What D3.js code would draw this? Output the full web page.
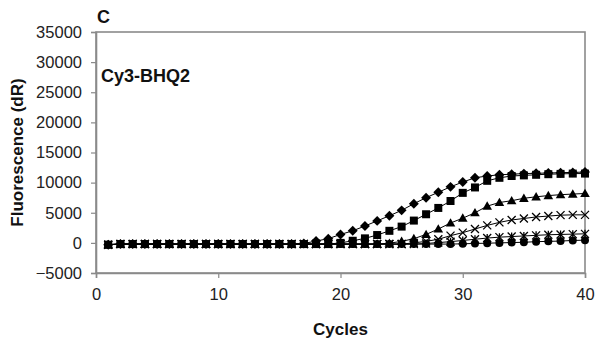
<!DOCTYPE html>
<html>
<head>
<meta charset="utf-8">
<script src="https://cdn.jsdelivr.net/npm/d3@7"></script>
<style>
  html, body { margin: 0; padding: 0; background: #fff; }
  svg { display: block; font-family: "Liberation Sans", Arial, sans-serif; }
</style>
</head>
<body>
<svg id="chart" width="596" height="341"></svg>
<script>
// Amplification curves, Cy3-BHQ2 probe: fluorescence (dR) per PCR cycle
const cycles = d3.range(1, 41);

const diamondSeries = [-300,-200,-200,-200,-200,-200,-200,-200,-200,-200,-200,-200,-200,-200,-200,-200,
  -100,300,700,1400,2000,2800,3650,4500,5400,6500,7500,8400,9300,10100,10800,11100,11300,11400,11500,11550,11600,11650,11700,11750];
const squareSeries = [-300,-200,-200,-200,-200,-200,-200,-200,-200,-200,-200,-200,-200,-200,-200,-200,-200,-200,-200,
  0,350,750,1300,2000,2700,3700,4750,5800,6950,8300,9200,10300,10800,11100,11200,11300,11400,11450,11500,11500];
const triangleSeries = [-300,-200,-200,-200,-200,-200,-200,-200,-200,-200,-200,-200,-200,-200,-200,-200,-200,-200,-200,-200,-200,-200,-200,
  -50,250,700,1400,2300,3300,4100,5000,6100,6700,7000,7400,7650,7850,8000,8100,8200];
const crossSeries = [-300,-200,-200,-200,-200,-200,-200,-200,-200,-200,-200,-200,-200,-200,-200,-200,-200,-200,-200,-200,-200,-200,-200,-200,-200,
  0,250,600,1200,1700,2300,2900,3400,3800,4050,4300,4450,4600,4650,4650];
const starSeries = [-300,-200,-200,-200,-200,-200,-200,-200,-200,-200,-200,-200,-200,-200,-200,-200,-200,-200,-200,-200,-200,-200,-200,-200,-200,-200,
  -100,50,200,400,600,800,950,1050,1150,1250,1350,1400,1450,1500];
const circleSeries = [-300,-200,-200,-200,-200,-200,-200,-200,-200,-200,-200,-200,-200,-200,-200,-200,-200,-200,-200,-200,-200,-200,-200,-200,-200,-200,-200,-200,-200,
  -150,-100,-50,0,50,100,200,250,300,400,450];

const xTicks = [0, 10, 20, 30, 40];
const yTicks = [-5000, 0, 5000, 10000, 15000, 20000, 25000, 30000, 35000];

const panelLetter = "C";
const probeName = "Cy3-BHQ2";
const xTitle = "Cycles";
const yTitle = "Fluorescence (dR)";

// drawing order: last one ends up on top
const seriesList = [
  { values: circleSeries, marker: "circle" },
  { values: starSeries, marker: "star" },
  { values: crossSeries, marker: "cross" },
  { values: triangleSeries, marker: "triangle" },
  { values: diamondSeries, marker: "diamond" },
  { values: squareSeries, marker: "square" }
];

const svg = d3.select("#chart");
const plot = { left: 96, right: 585, top: 32, bottom: 273 };

const x = d3.scaleLinear().domain([0, 40]).range([plot.left, plot.right]);
const y = d3.scaleLinear().domain([-5000, 35000]).range([plot.bottom, plot.top]);

const axisColor = "#8a8a8a";

// frame
svg.append("rect")
  .attr("x", plot.left).attr("y", plot.top)
  .attr("width", plot.right - plot.left).attr("height", plot.bottom - plot.top)
  .attr("fill", "none").attr("stroke", axisColor).attr("stroke-width", 1.6);

// axes
const xAxis = svg.append("g")
  .attr("transform", `translate(0,${plot.bottom})`)
  .call(d3.axisBottom(x).tickValues(xTicks).tickSize(5).tickPadding(10).tickFormat(d3.format("d")));
const yAxis = svg.append("g")
  .attr("transform", `translate(${plot.left},0)`)
  .call(d3.axisLeft(y).tickValues(yTicks).tickSize(5).tickPadding(9).tickFormat(d3.format("d")));

[xAxis, yAxis].forEach(g => {
  g.select(".domain").attr("stroke", axisColor).attr("stroke-width", 1.6);
  g.selectAll(".tick line").attr("stroke", axisColor).attr("stroke-width", 1.2);
  g.selectAll(".tick text")
    .attr("fill", "#222")
    .style("font-size", "16.5px")
    .style("font-family", "'Liberation Sans', Arial, sans-serif");
});

// curves
const line = d3.line()
  .x((d, i) => x(cycles[i]))
  .y(d => y(d));

const markerSize = 8;
function drawMarker(g, kind, cx, cy) {
  const s = markerSize;
  if (kind === "circle") {
    g.append("circle").attr("cx", cx).attr("cy", cy).attr("r", s / 2).attr("fill", "#000");
  } else if (kind === "square") {
    g.append("rect").attr("x", cx - s / 2).attr("y", cy - s / 2).attr("width", s).attr("height", s).attr("fill", "#000");
  } else if (kind === "diamond") {
    const h = s * 0.62;
    g.append("path").attr("d", `M${cx},${cy - h}L${cx + h},${cy}L${cx},${cy + h}L${cx - h},${cy}Z`).attr("fill", "#000");
  } else if (kind === "triangle") {
    const h = s * 0.6;
    g.append("path").attr("d", `M${cx},${cy - h}L${cx + h},${cy + h * 0.75}L${cx - h},${cy + h * 0.75}Z`).attr("fill", "#000");
  } else if (kind === "cross") {
    const h = s / 2;
    g.append("path").attr("d", `M${cx - h},${cy - h}L${cx + h},${cy + h}M${cx - h},${cy + h}L${cx + h},${cy - h}`)
      .attr("stroke", "#000").attr("stroke-width", 1.3);
  } else if (kind === "star") {
    const h = s / 2;
    g.append("path").attr("d", `M${cx - h},${cy - h}L${cx + h},${cy + h}M${cx - h},${cy + h}L${cx + h},${cy - h}M${cx},${cy - h}L${cx},${cy + h}`)
      .attr("stroke", "#000").attr("stroke-width", 1.3);
  }
}

seriesList.forEach(s => {
  const g = svg.append("g");
  g.append("path")
    .datum(s.values)
    .attr("d", line)
    .attr("fill", "none")
    .attr("stroke", "#000")
    .attr("stroke-width", 1);
  s.values.forEach((v, i) => drawMarker(g, s.marker, x(cycles[i]), y(v)));
});

// text
svg.append("text").attr("x", 97).attr("y", 23)
  .attr("font-weight", "bold").attr("font-size", 18).attr("fill", "#111").text(panelLetter);

svg.append("text").attr("x", 101).attr("y", 82)
  .attr("font-weight", "bold").attr("font-size", 18).attr("fill", "#111").text(probeName);

svg.append("text").attr("x", (plot.left + plot.right) / 2).attr("y", 335)
  .attr("text-anchor", "middle").attr("font-weight", "bold").attr("font-size", 17).attr("fill", "#111").text(xTitle);

svg.append("text")
  .attr("transform", `translate(23,${(plot.top + plot.bottom) / 2 + 0}) rotate(-90)`)
  .attr("text-anchor", "middle").attr("font-weight", "bold").attr("font-size", 17).attr("fill", "#111").text(yTitle);
</script>
</body>
</html>
